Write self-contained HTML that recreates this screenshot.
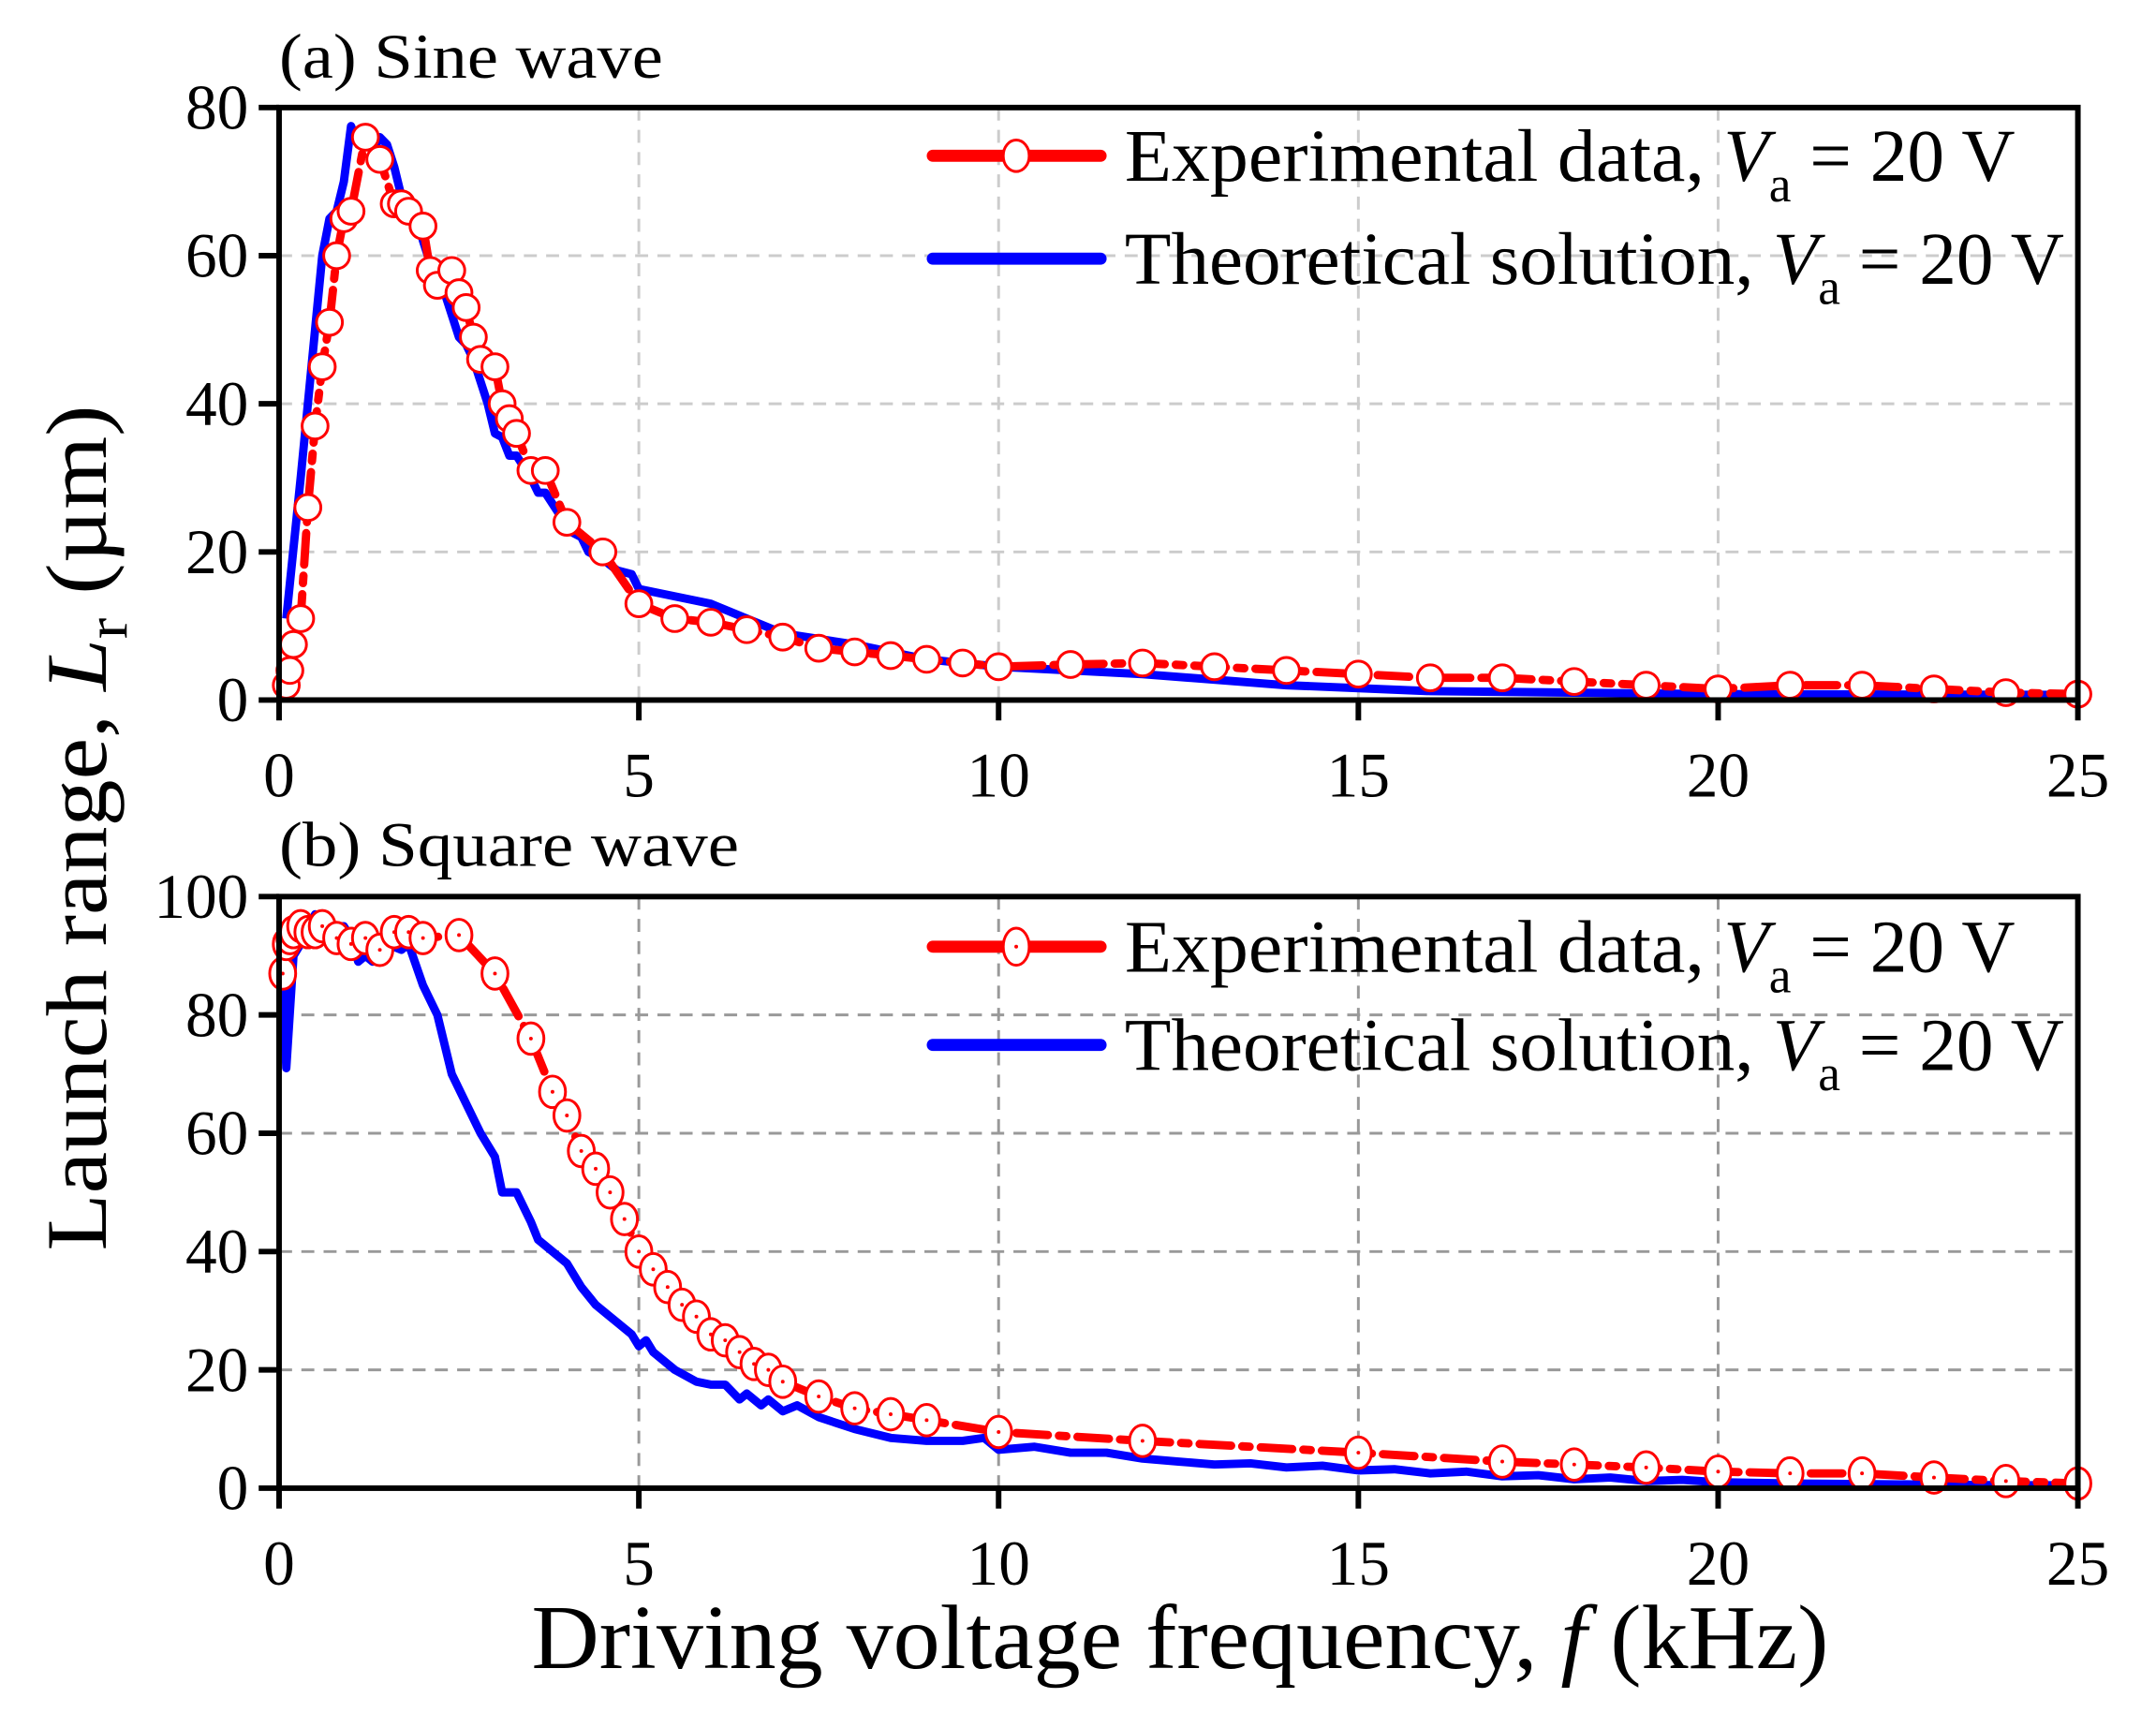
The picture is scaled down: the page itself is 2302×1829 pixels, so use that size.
<!DOCTYPE html>
<html><head><meta charset="utf-8"><style>
html,body{margin:0;padding:0;background:#fff}
svg{display:block}
text{font-family:"Liberation Serif",serif;fill:#000}
</style></head><body>
<svg id="chart" width="2302" height="1829" viewBox="0 0 2302 1829" xmlns="http://www.w3.org/2000/svg">
<g id="root" transform="scale(0.99)"></g>
<g id="top"></g>
</svg>
<script>
const ticksX=[0,5,10,15,20,25];
const ticksA=[0,20,40,60,80];
const ticksB=[0,20,40,60,80,100];
const expA_x=[0.1,0.15,0.2,0.3,0.4,0.5,0.6,0.7,0.8,0.9,1.0,1.2,1.4,1.6,1.7,1.8,2.0,2.1,2.2,2.4,2.5,2.6,2.7,2.8,3.0,3.1,3.2,3.3,3.5,3.7,4.0,4.5,5,5.5,6,6.5,7,7.5,8,8.5,9,9.5,10,11,12,13,14,15,16,17,18,19,20,21,22,23,24,25];
const expA_y=[2,4,7.5,11,26,37,45,51,60,65,66,76,73,67,67,66,64,58,56,58,55,53,49,46,45,40,38,36,31,31,24,20,13,11,10.5,9.5,8.5,7,6.5,6,5.5,5,4.5,4.8,5,4.5,4,3.5,3,3,2.5,2,1.5,2,2,1.5,1,0.8];
const theA_x=[0.1,0.3,0.5,0.6,0.7,0.8,0.9,1.0,1.1,1.2,1.3,1.4,1.5,1.6,1.7,1.8,1.9,2.0,2.1,2.2,2.3,2.5,2.6,2.7,2.8,2.9,3.0,3.1,3.2,3.3,3.5,3.6,3.7,3.9,4.0,4.2,4.3,4.5,4.7,4.9,5.0,6,7,8,9,10,12,14,16,18,20,25];
const theA_y=[11,30,50,60,65,66,70,77.5,75,76,74,76,75,72,68,67,66,62,59,59,55,49,48,46,43,40,36,35.5,33,33,30,28,28,25,23,22,20,19,17.5,17,15,13,9,7.5,5.5,4.5,3.5,2,1.2,1,0.8,0.7];
const expB_x=[0.05,0.1,0.15,0.2,0.3,0.4,0.5,0.6,0.8,1.0,1.2,1.4,1.6,1.8,2.0,2.5,3.0,3.5,3.8,4.0,4.2,4.4,4.6,4.8,5.0,5.2,5.4,5.6,5.8,6.0,6.2,6.4,6.6,6.8,7.0,7.5,8,8.5,9,10,12,15,17,18,19,20,21,22,23,24,25];
const expB_y=[87,92,93,94,95,94,94,95,93,92,93,91,94,94,93,93.5,87,76,67,63,57,54,50,45.5,40,37,34,31,29,26,25,23,21,20,18,15.5,13.5,12.5,11.5,9.5,8,6,4.5,4,3.5,2.8,2.5,2.5,1.8,1.2,0.8];
const theB_x=[0.05,0.1,0.2,0.3,0.4,0.5,0.6,0.7,0.8,0.9,1.0,1.1,1.2,1.3,1.4,1.5,1.7,1.8,2.0,2.2,2.4,2.6,2.8,3.0,3.1,3.3,3.5,3.6,3.8,4.0,4.2,4.4,4.6,4.7,4.9,5.0,5.1,5.2,5.5,5.8,6.0,6.2,6.4,6.5,6.7,6.8,7.0,7.2,7.5,8,8.5,9,9.5,9.8,10,10.5,11,11.5,12,12.5,13,13.5,14,14.5,15,15.5,16,16.5,17,17.5,18,18.5,19,19.5,20,21,22,23,24,25];
const theB_y=[88,71,90,92,94,97,94,93,95,95,93,89,90,89,90,92,91,92,85,80,70,65,60,56,50,50,45,42,40,38,34,31,29,28,26,24,25,23,20,18,17.5,17.5,15,16,14,15,13,14,12,10,8.5,8,8,8.5,6.5,7,6,6,5,4.5,4,4.2,3.5,3.8,3,3.2,2.5,2.8,2,2.2,1.5,1.8,1.2,1.4,1,0.8,0.7,0.6,0.5,0.5];

const NS="http://www.w3.org/2000/svg";
const root=document.getElementById('root');
const topG=document.getElementById('top');
function mk(tag,attrs,parent){const e=document.createElementNS(NS,tag);for(const k in attrs)e.setAttribute(k,attrs[k]);(parent||root).appendChild(e);return e;}
const X0=301,X1=2241;
function sx(v){return X0+(X1-X0)*v/25;}

function panel(cfg){
  const g=mk('g',{});
  
  
  const sy=v=>cfg.yb-(cfg.yb-cfg.yt)*v/cfg.ymax;
  for(const t of ticksX){ if(t===0||t===25)continue;
    const l=mk('line',{x1:sx(t),x2:sx(t),y1:cfg.yt,y2:cfg.yb,stroke:cfg.grid,'stroke-width':3,'stroke-dasharray':'14 10'},g);
    
    }
  for(const t of cfg.ticks){ if(t===0||t===cfg.ymax)continue;
    const l=mk('line',{x1:X0,x2:X1,y1:sy(t),y2:sy(t),stroke:cfg.grid,'stroke-width':3,'stroke-dasharray':'14 10'},g);
    
    }
  const tp=mk('polyline',{points:cfg.tx.map((x,i)=>sx(x)+','+sy(cfg.ty[i])).join(' '),fill:'none',stroke:'#0000ff','stroke-width':9,'stroke-linejoin':'round'},g);
  
  
  const ep=mk('polyline',{points:cfg.ex.map((x,i)=>sx(x)+','+sy(cfg.ey[i])).join(' '),fill:'none',stroke:'#ff0000','stroke-width':9,'stroke-dasharray':'34 12 8 12','stroke-linecap':'round'},g);
  
  
  cfg.ex.forEach((x,i)=>{
    const c=mk('ellipse',{cx:sx(x),cy:sy(cfg.ey[i]),rx:14,ry:cfg.ry,fill:'#fff',stroke:'#ff0000','stroke-width':3},g);
    
    
    if(cfg.dot){const d=mk('circle',{cx:sx(x),cy:sy(cfg.ey[i]),r:2,fill:'#ff0000'},g);
      
      }
  });
  const f=mk('rect',{x:X0,y:cfg.yt,width:X1-X0,height:cfg.yb-cfg.yt,fill:'none',stroke:'#000','stroke-width':6},g);
  
  
  for(const t of ticksX){
    mk('line',{x1:sx(t),x2:sx(t),y1:cfg.yb,y2:cfg.yb+22,stroke:'#000','stroke-width':6},g);
    const tx=mk('text',{x:sx(t),y:cfg.yb+cfg.xlOff,'text-anchor':'middle','font-size':68},g);
    tx.textContent=t;
    
    }
  for(const t of cfg.ticks){
    mk('line',{x1:X0-22,x2:X0,y1:sy(t),y2:sy(t),stroke:'#000','stroke-width':6},g);
    const tx=mk('text',{x:268,y:sy(t)+23,'text-anchor':'end','font-size':68},g);
    tx.textContent=t;
    
    }
  const ti=mk('text',{x:301,y:cfg.titleY,'font-size':68,textLength:cfg.titleW,lengthAdjust:'spacingAndGlyphs'},g);
  ti.textContent=cfg.title;
  
  
  const L=cfg.leg;
  const lg=mk('g',{},g);
  
  
  mk('line',{x1:1006,x2:1187,y1:L[0],y2:L[0],stroke:'#ff0000','stroke-width':13,'stroke-linecap':'round'},lg);
  mk('ellipse',{cx:1096,cy:L[0],rx:14,ry:cfg.ry+3,fill:'#fff',stroke:'#ff0000','stroke-width':3},lg);
  if(cfg.dot)mk('circle',{cx:1096,cy:L[0],r:2,fill:'#ff0000'},lg);
  mk('line',{x1:1006,x2:1187,y1:L[1],y2:L[1],stroke:'#0000ff','stroke-width':13,'stroke-linecap':'round'},lg);
  const t1=mk('text',{x:1213,y:L[0]+27,'font-size':80},lg);
  t1.innerHTML='<tspan textLength="646" lengthAdjust="spacingAndGlyphs">Experimental data, </tspan><tspan font-style="italic">V</tspan><tspan font-size="54" dy="22">a</tspan><tspan dy="-22"> = 20 V</tspan>';
  
  
  const t2=mk('text',{x:1213,y:L[1]+27,'font-size':80},lg);
  t2.innerHTML='<tspan textLength="699" lengthAdjust="spacingAndGlyphs">Theoretical solution, </tspan><tspan font-style="italic">V</tspan><tspan font-size="54" dy="22">a</tspan><tspan dy="-22"> = 20 V</tspan>';
  
  
}
panel({name:'panel-a-sine',yt:116,yb:755,ymax:80,ticks:ticksA,grid:'#cccccc',tx:theA_x,ty:theA_y,ex:expA_x,ey:expA_y,ry:14,dot:false,title:'(a) Sine wave',titleY:84,titleW:414,leg:[168,279],xlOff:104});
panel({name:'panel-b-square',yt:967,yb:1605,ymax:100,ticks:ticksB,grid:'#999999',tx:theB_x,ty:theB_y,ex:expB_x,ey:expB_y,ry:17,dot:true,title:'(b) Square wave',titleY:934,titleW:496,leg:[1021,1127],xlOff:104});

const yt=mk('text',{transform:'translate(113,884) rotate(-90)','text-anchor':'middle','font-size':92,textLength:903,lengthAdjust:'spacingAndGlyphs'},topG);
yt.innerHTML='Launch range, <tspan font-style="italic">L</tspan><tspan font-size="62" dy="22">r</tspan><tspan dy="-22"> (µm)</tspan>';


const xt=mk('text',{x:1260,y:1781,'text-anchor':'middle','font-size':98,textLength:1385,lengthAdjust:'spacingAndGlyphs'},topG);
xt.innerHTML='Driving voltage frequency, <tspan font-style="italic">f</tspan> (kHz)';


</script>
</body></html>
